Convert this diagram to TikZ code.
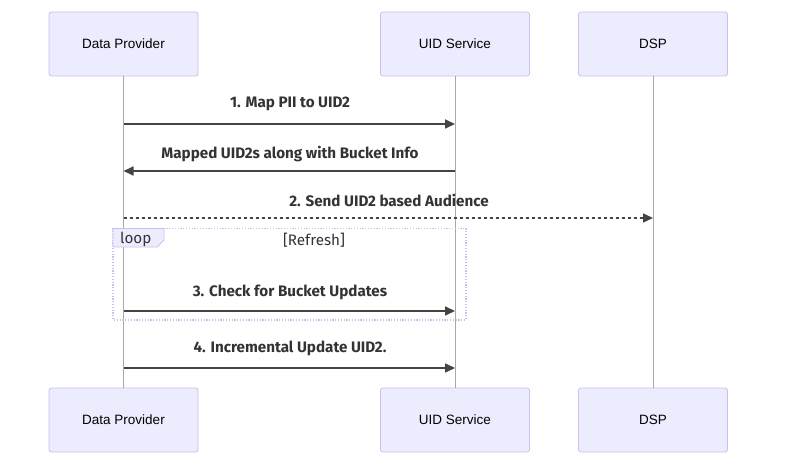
\documentclass[tikz,border=0pt]{standalone}
\usepackage{fontspec}
\setmainfont{Liberation Sans}
\newfontfamily\msgfont{Fira Sans}
\usetikzlibrary{arrows.meta}
\definecolor{actfill}{HTML}{ECECFF}
\definecolor{actline}{HTML}{CCBFEF}
\definecolor{lifel}{HTML}{A8A8A8}
\definecolor{msgc}{HTML}{333333}
\definecolor{arrc}{HTML}{444444}
\tikzset{
  actor/.style={draw=actline, fill=actfill, rounded corners=2.5bp, line width=0.8bp,
    minimum width=149bp, minimum height=64bp, inner sep=0pt,
    font=\fontsize{13.5bp}{16bp}\selectfont, text=black},
  lifeline/.style={draw=lifel, line width=0.8bp},
  msg/.style={draw=arrc, line width=1.7bp, -{Triangle[length=10bp,width=9bp]}},
  dmsg/.style={msg, dash pattern=on 3bp off 3bp, line width=1.5bp},
  mtext/.style={font=\msgfont\fontsize{15.2bp}{18bp}\selectfont\bfseries, text=msgc, inner sep=0pt},
  loopbox/.style={draw=actline, line width=1.2bp, dash pattern=on 1.2bp off 1.6bp},
}
\begin{document}
\begin{tikzpicture}[x=1bp,y=-1bp]
\useasboundingbox (0,0) rectangle (785,456);
% actors
\node[actor] (dpT) at (123.5,44) {Data Provider};
\node[actor] (uidT) at (455,44) {UID Service};
\node[actor] (dspT) at (653,44) {DSP};
\node[actor] (dpB) at (123.5,420) {Data Provider};
\node[actor] (uidB) at (455,420) {UID Service};
\node[actor] (dspB) at (653,420) {DSP};
% lifelines
\draw[lifeline] (dpT.south) -- (dpB.north);
\draw[lifeline] (uidT.south) -- (uidB.north);
\draw[lifeline] (dspT.south) -- (dspB.north);
% coordinates on lifelines
\coordinate (a1) at (dpT.south |- 0,124);
\coordinate (b1) at (uidT.south |- 0,124);
\coordinate (a2) at (dpT.south |- 0,171);
\coordinate (b2) at (uidT.south |- 0,171);
\coordinate (a3) at (dpT.south |- 0,218);
\coordinate (c3) at (dspT.south |- 0,218);
\coordinate (a4) at (dpT.south |- 0,311);
\coordinate (b4) at (uidT.south |- 0,311);
\coordinate (a5) at (dpT.south |- 0,368);
\coordinate (b5) at (uidT.south |- 0,368);
% loop box
\draw[loopbox] (113,228.5) rectangle (466,320);
\filldraw[draw=actline, fill=actfill, line width=0.8bp] (113,228.5) -- (164,228.5) -- (164,240) -- (157,247) -- (113,247) -- cycle;
\node[mtext, anchor=west] (looplbl) at (120,239) {\mdseries loop};
\node[mtext] (refresh) at (314,240) {\mdseries [Refresh]};
% messages
\draw[msg] (a1) -- (b1);
\node[mtext] (t1) at (290,104) {1. Map PII to UID2};
\draw[msg] (b2) -- (a2);
\node[mtext] (t2) at (290,154) {Mapped UID2s along with Bucket Info};
\draw[dmsg] (a3) -- (c3);
\node[mtext] (t3) at (389,200) {2. Send UID2 based Audience};
\draw[msg] (a4) -- (b4);
\node[mtext] (t4) at (290,292) {3. Check for Bucket Updates};
\draw[msg] (a5) -- (b5);
\node[mtext] (t5) at (290,348) {4. Incremental Update UID2.};
\end{tikzpicture}
\end{document}
